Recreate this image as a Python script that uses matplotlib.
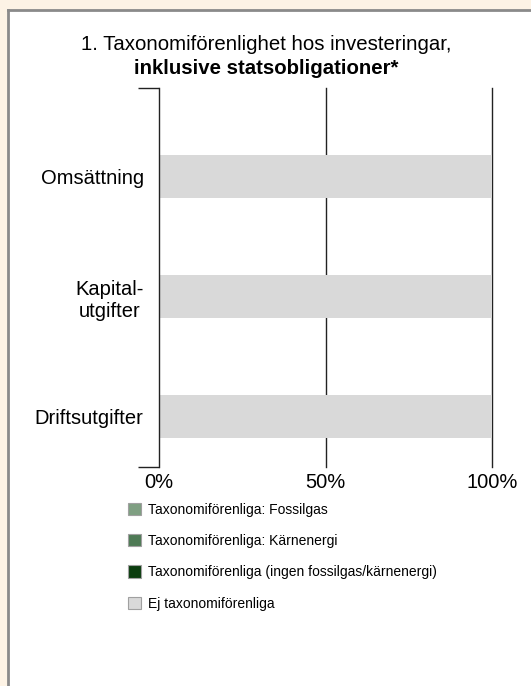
import matplotlib
matplotlib.use("Agg")
import matplotlib.pyplot as plt
from matplotlib.patches import Rectangle, Patch
from matplotlib.lines import Line2D

plt.rcParams['font.family'] = ['Liberation Sans', 'DejaVu Sans']

categories = ["Omsättning", "Kapital-\nutgifter", "Driftsutgifter"]
series_names = [
    "Taxonomiförenliga: Fossilgas",
    "Taxonomiförenliga: Kärnenergi",
    "Taxonomiförenliga (ingen fossilgas/kärnenergi)",
    "Ej taxonomiförenliga",
]
fossilgas = [0, 0, 0]
karnenergi = [0, 0, 0]
ovriga = [0, 0, 0]
ej = [100, 100, 100]
colors = ["#7f9f82", "#4e7a55", "#0b3d0e", "#d9d9d9"]
xticks = [0, 50, 100]
xticklabels = ["0%", "50%", "100%"]

W, H = 531, 686
fig = plt.figure(figsize=(W / 100, H / 100), dpi=100)
fig.patch.set_facecolor("#fdf3e5")

# white panel with gray border on left/top
fig.patches.append(Rectangle((8 / W, 0), 1 - 8 / W, 1 - 10 / H, transform=fig.transFigure,
                             facecolor="white", edgecolor="none", zorder=-5))
fig.lines.append(Line2D([8 / W, 8 / W], [0, 1 - 10 / H], transform=fig.transFigure,
                        color="#8a8a8a", lw=2, zorder=-4))
fig.lines.append(Line2D([8 / W, 1], [1 - 10 / H, 1 - 10 / H], transform=fig.transFigure,
                        color="#8a8a8a", lw=2, zorder=-4))

x0, x1 = 159, 492
y_top, y_bot = 88, 467
ax = fig.add_axes([x0 / W, 1 - y_bot / H, (x1 - x0) / W, (y_bot - y_top) / H])
ax.set_zorder(2)
ax.set_facecolor("none")

ypos = list(range(len(categories)))
left = [0, 0, 0]
for vals, col in zip([fossilgas, karnenergi, ovriga, ej], colors):
    ax.barh(ypos, vals, left=left, height=0.36, color=col, zorder=2)
    left = [a + b for a, b in zip(left, vals)]

ax.set_xlim(0, 100)
ax.set_ylim(2.417, -0.733)
ax.set_xticks(xticks)
ax.set_xticklabels(xticklabels, fontsize=14.5)
ax.tick_params(axis='x', length=0, pad=4)
ax.set_yticks(ypos)
ax.set_yticklabels(categories, fontsize=14.5, ha='right', multialignment='center')
ax.tick_params(axis='y', which='major', length=0, pad=11)
ax.set_yticks([-0.733, 2.417], minor=True)
ax.tick_params(axis='y', which='minor', length=15, width=1, color="#222222", direction='out')
for x in xticks[1:]:
    ax.axvline(x, color="#222222", lw=1, zorder=1, clip_on=False)
for s in ["top", "right", "bottom"]:
    ax.spines[s].set_visible(False)
ax.spines["left"].set_color("#222222")
ax.spines["left"].set_linewidth(1)

# title
fig.text(266 / W, 1 - 44 / H, "1. Taxonomiförenlighet hos investeringar,",
         ha='center', va='center', fontsize=14.7)
fig.text(266 / W, 1 - 68 / H, "inklusive statsobligationer*",
         ha='center', va='center', fontsize=14.7, fontweight='bold')

# legend
handles = [Patch(facecolor=c, edgecolor="#a0a0a0", linewidth=0.8) for c in colors]
leg = fig.legend(handles, series_names, loc='upper left',
                 bbox_to_anchor=(122 / W, 1 - 497 / H), frameon=False,
                 fontsize=10, handlelength=1.0, handleheight=1.0,
                 handletextpad=0.5, labelspacing=1.25, borderaxespad=0)

fig.savefig("out.png", dpi=100, facecolor=fig.get_facecolor())
